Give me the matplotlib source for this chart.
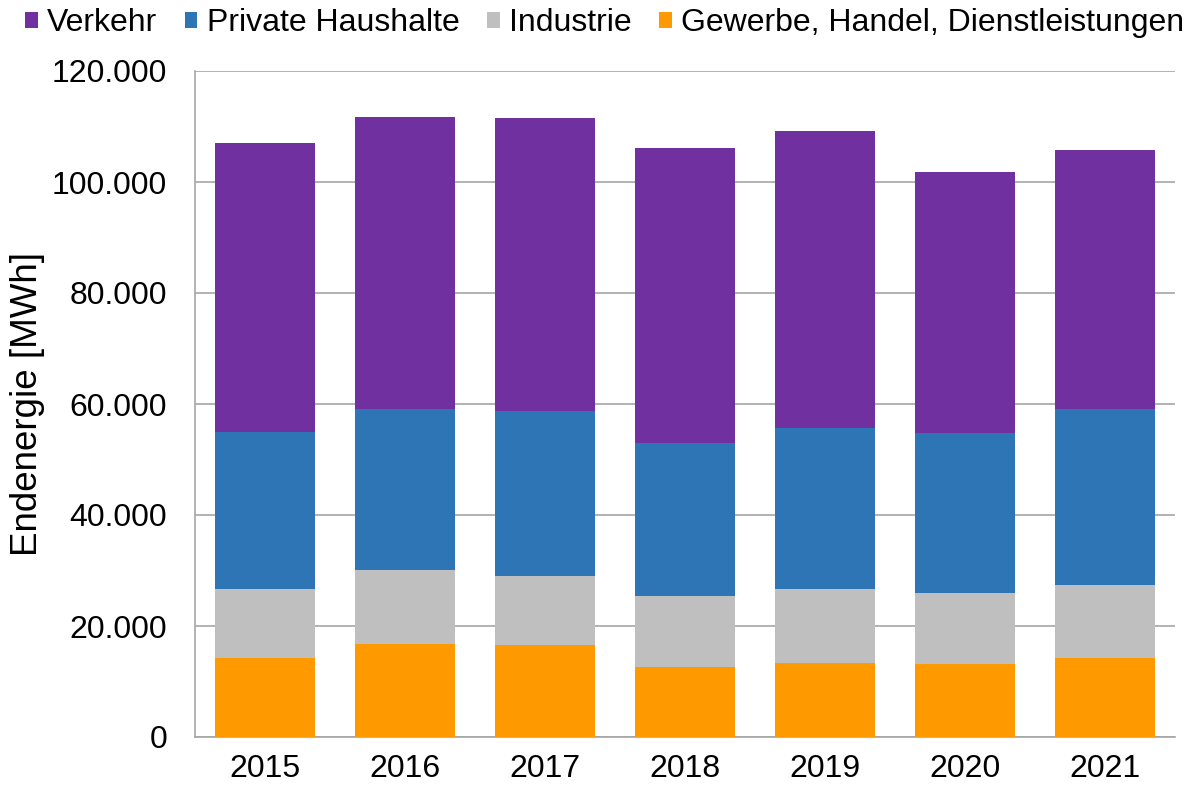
import numpy as np
import matplotlib.pyplot as plt

plt.rcParams['font.family'] = ['Liberation Sans', 'DejaVu Sans']

# --- Data (MWh) ---
years = ['2015', '2016', '2017', '2018', '2019', '2020', '2021']
ghd = [14200, 16750, 16600, 12600, 13300, 13150, 14250]
industrie = [12450, 13350, 12400, 12800, 13350, 12800, 13150]
haushalte = [28300, 29000, 29750, 27550, 29000, 28850, 31700]
verkehr = [52100, 52600, 52800, 53150, 53500, 47000, 46700]

colors = {
    'Verkehr': '#7030A0',
    'Private Haushalte': '#2E75B6',
    'Industrie': '#BFBFBF',
    'Gewerbe, Handel, Dienstleistungen': '#FF9900',
}

fig = plt.figure(figsize=(11.88, 7.86), dpi=100)
ax = fig.add_axes([195 / 1188, 49 / 786, 980 / 1188, 666 / 786])

x = np.arange(len(years))
w = 0.72
bottom = np.zeros(len(years))
stack = [('Gewerbe, Handel, Dienstleistungen', ghd),
         ('Industrie', industrie),
         ('Private Haushalte', haushalte),
         ('Verkehr', verkehr)]
bars = {}
for name, vals in stack:
    bars[name] = ax.bar(x, vals, w, bottom=bottom, color=colors[name],
                        label=name, zorder=3)
    bottom += np.array(vals)

ax.set_xlim(-0.5, len(years) - 0.5)
ax.set_ylim(0, 120000)
ax.set_yticks(np.arange(0, 120001, 20000))
ax.set_yticklabels([f'{v:,}'.replace(',', '.') for v in range(0, 120001, 20000)])
ax.set_xticks(x)
ax.set_xticklabels(years)
ax.tick_params(axis='both', length=0, labelsize=23)
ax.tick_params(axis='y', pad=20)
ax.tick_params(axis='x', pad=12)
ax.yaxis.grid(True, color='#A6A6A6', linewidth=1.2, zorder=0)
for s in ['top', 'right']:
    ax.spines[s].set_visible(False)
for s in ['left', 'bottom']:
    ax.spines[s].set_color('#A6A6A6')
    ax.spines[s].set_linewidth(1.2)
ax.set_ylabel('Endenergie [MWh]', fontsize=26.5)
ax.yaxis.set_label_coords(-150 / 980, 0.5)

order = ['Verkehr', 'Private Haushalte', 'Industrie', 'Gewerbe, Handel, Dienstleistungen']
fig.legend([bars[n] for n in order], order, loc='upper center',
           bbox_to_anchor=(0.509, 1.026), ncol=4, frameon=False, fontsize=23,
           handlelength=0.4, handleheight=0.4, handletextpad=0.3,
           columnspacing=0.85)

fig.savefig('out.png', dpi=100)
